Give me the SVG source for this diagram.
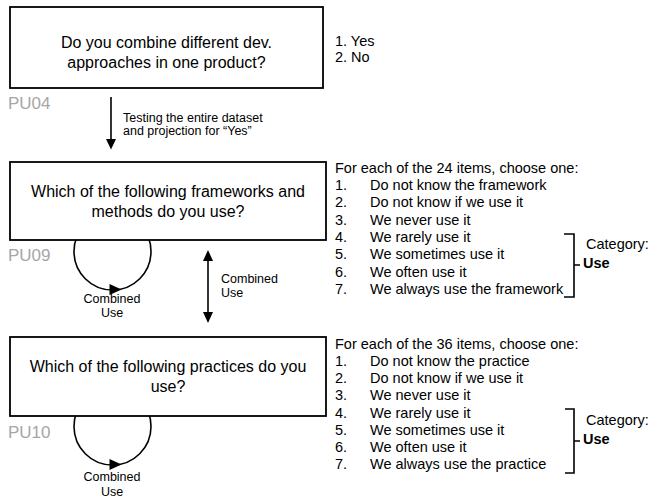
<svg xmlns="http://www.w3.org/2000/svg" width="649" height="499" viewBox="0 0 649 499">
  <defs>
    <style>
      text { font-family: "Liberation Sans", Arial, sans-serif; fill: #000; }
      .q { font-size: 16px; text-anchor: middle; }
      .code { font-size: 17px; fill: #a6a6a6; }
      .lbl { font-size: 12.5px; }
      .lblc { font-size: 12.5px; text-anchor: middle; }
      .lst { font-size: 14.5px; }
      .b { font-weight: bold; }
      .box { fill: #fff; stroke: #000; stroke-width: 1.8; }
      .ln { fill: none; stroke: #000; stroke-width: 1.6; }
      .head { fill: #000; stroke: none; }
    </style>
  </defs>

  <!-- connectors (drawn first so boxes cover the loop tops) -->
  <g id="connectors">
    <!-- PU04 -> PU09 -->
    <line class="ln" x1="111" y1="97" x2="111" y2="141"/>
    <polygon class="head" points="106,139 116,139 111,149.5"/>
    <text class="lbl" x="123" y="122">Testing the entire dataset</text>
    <text class="lbl" x="123" y="135">and projection for “Yes”</text>

    <!-- PU09 self loop -->
    <circle class="ln" cx="112.5" cy="251.5" r="38.5"/>
    <polygon class="head" points="109.5,284 121.5,289.5 109.5,295"/>
    <text class="lblc" x="112" y="303">Combined</text>
    <text class="lblc" x="112" y="317">Use</text>

    <!-- PU09 <-> PU10 -->
    <line class="ln" x1="208" y1="258" x2="208" y2="315"/>
    <polygon class="head" points="208,250 203,261 213,261"/>
    <polygon class="head" points="208,323 203,312 213,312"/>
    <text class="lbl" x="221" y="283">Combined</text>
    <text class="lbl" x="221" y="297">Use</text>

    <!-- PU10 self loop -->
    <circle class="ln" cx="112.5" cy="426.5" r="38.5"/>
    <polygon class="head" points="109.5,459 121.5,464.5 109.5,470"/>
    <text class="lblc" x="112" y="481">Combined</text>
    <text class="lblc" x="112" y="496">Use</text>
  </g>

  <!-- PU04 -->
  <g id="PU04">
    <rect class="box" x="10" y="7" width="313" height="81"/>
    <text class="q" x="166.5" y="48">Do you combine different dev.</text>
    <text class="q" x="166.5" y="67.5">approaches in one product?</text>
    <text class="code" x="8" y="109">PU04</text>
    <text class="lst" x="335" y="46">1. Yes</text>
    <text class="lst" x="335" y="62">2. No</text>
  </g>

  <!-- PU09 -->
  <g id="PU09">
    <rect class="box" x="10" y="162" width="316" height="78"/>
    <text class="q" x="168" y="197">Which of the following frameworks and</text>
    <text class="q" x="168" y="217">methods do you use?</text>
    <text class="code" x="8" y="261">PU09</text>
    <text class="lst" x="335" y="172.5">For each of the 24 items, choose one:</text>
    <text class="lst" x="335" y="190">1.</text><text class="lst" x="370" y="190">Do not know the framework</text>
    <text class="lst" x="335" y="207.3">2.</text><text class="lst" x="370" y="207.3">Do not know if we use it</text>
    <text class="lst" x="335" y="224.6">3.</text><text class="lst" x="370" y="224.6">We never use it</text>
    <text class="lst" x="335" y="241.9">4.</text><text class="lst" x="370" y="241.9">We rarely use it</text>
    <text class="lst" x="335" y="259.2">5.</text><text class="lst" x="370" y="259.2">We sometimes use it</text>
    <text class="lst" x="335" y="276.5">6.</text><text class="lst" x="370" y="276.5">We often use it</text>
    <text class="lst" x="335" y="293.8">7.</text><text class="lst" x="370" y="293.8">We always use the framework</text>
    <path class="ln" d="M564,234 H574 V297 H564 M574,265 H580"/>
    <text class="lst" x="586" y="249">Category:</text>
    <text class="lst b" x="583" y="268">Use</text>
  </g>

  <!-- PU10 -->
  <g id="PU10">
    <rect class="box" x="10" y="337" width="316" height="79"/>
    <text class="q" x="168" y="372">Which of the following practices do you</text>
    <text class="q" x="168" y="392">use?</text>
    <text class="code" x="8" y="438">PU10</text>
    <text class="lst" x="335" y="349">For each of the 36 items, choose one:</text>
    <text class="lst" x="335" y="366">1.</text><text class="lst" x="370" y="366">Do not know the practice</text>
    <text class="lst" x="335" y="383.2">2.</text><text class="lst" x="370" y="383.2">Do not know if we use it</text>
    <text class="lst" x="335" y="400.4">3.</text><text class="lst" x="370" y="400.4">We never use it</text>
    <text class="lst" x="335" y="417.6">4.</text><text class="lst" x="370" y="417.6">We rarely use it</text>
    <text class="lst" x="335" y="434.8">5.</text><text class="lst" x="370" y="434.8">We sometimes use it</text>
    <text class="lst" x="335" y="452">6.</text><text class="lst" x="370" y="452">We often use it</text>
    <text class="lst" x="335" y="469.2">7.</text><text class="lst" x="370" y="469.2">We always use the practice</text>
    <path class="ln" d="M565,409 H574 V473 H565 M574,441 H580"/>
    <text class="lst" x="586" y="425">Category:</text>
    <text class="lst b" x="583" y="444">Use</text>
  </g>
</svg>
